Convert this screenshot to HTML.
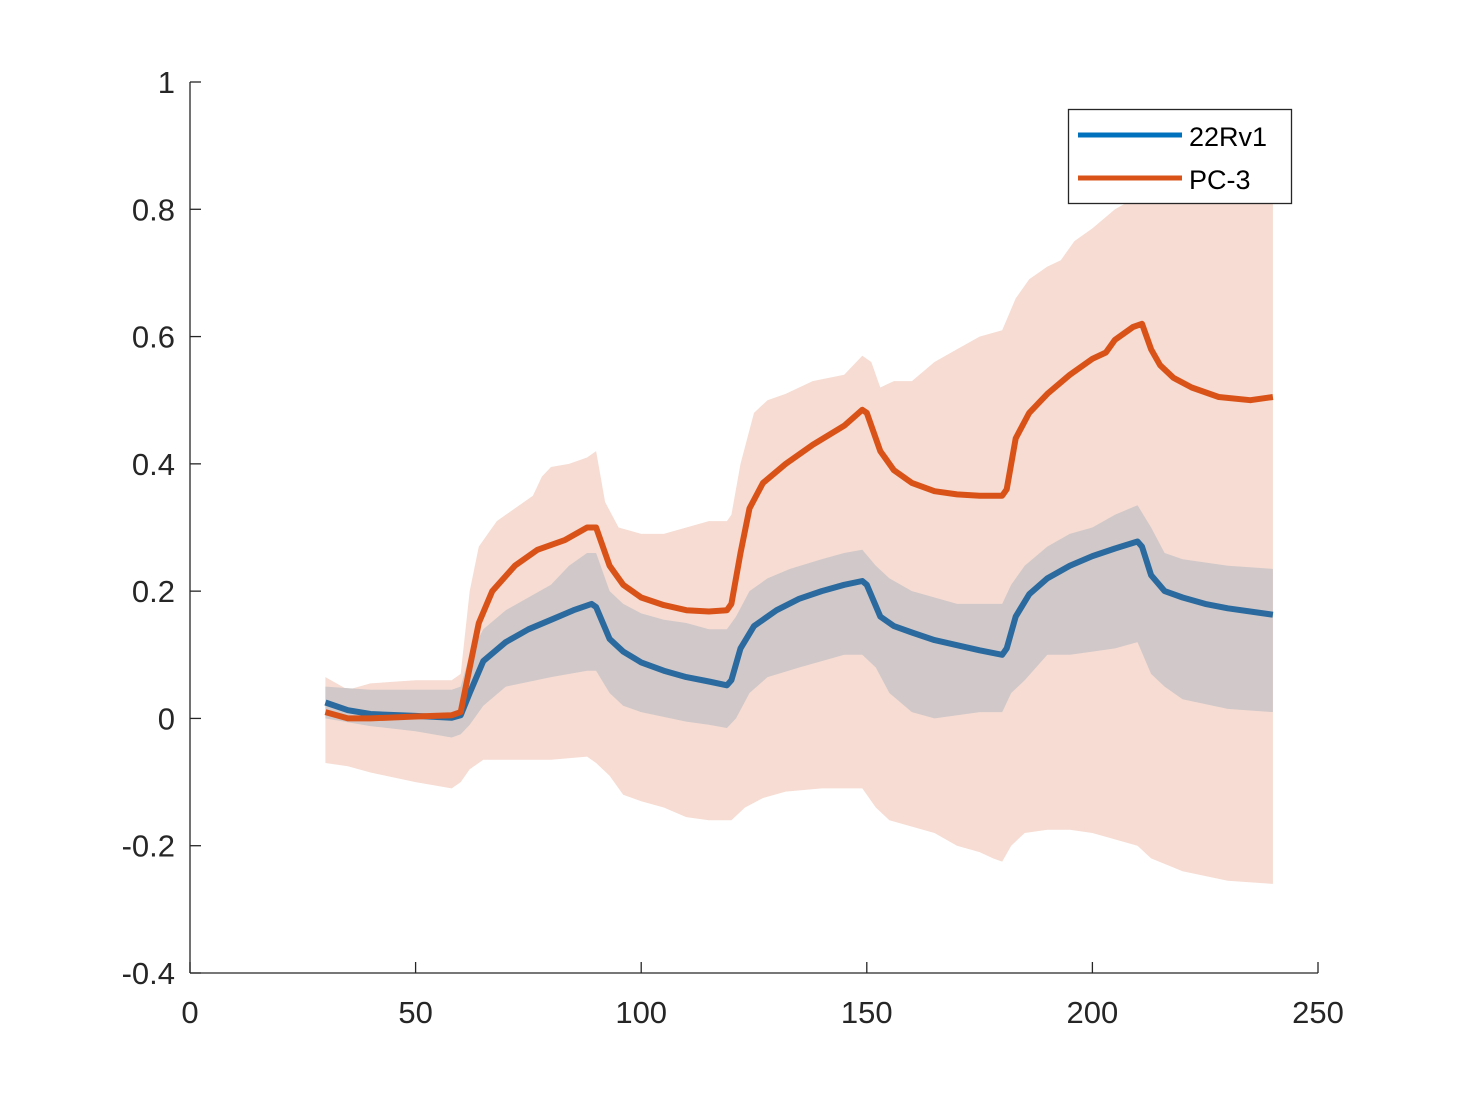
<!DOCTYPE html>
<html><head><meta charset="utf-8"><style>
body{margin:0;background:#fff}
svg{display:block;font-family:"Liberation Sans",Arial,sans-serif}
</style></head><body>
<svg id="chart" width="1458" height="1094" viewBox="0 0 1458 1094" xmlns="http://www.w3.org/2000/svg">
<rect width="1458" height="1094" fill="#fff"/>
<g id="bands"></g>
<g id="lines"></g>
<g id="axes" stroke="#262626" stroke-width="1.3" fill="none"></g>
<g id="ticklabels" fill="#262626" font-size="31"></g>
<g>
<rect x="1068.5" y="109.5" width="223" height="94" fill="#fff" stroke="#262626" stroke-width="1.3"/>
<line x1="1078" y1="135" x2="1182" y2="135" stroke="#0072bd" stroke-width="5"/>
<text x="1189" y="146" font-size="27" fill="#000">22Rv1</text>
<line x1="1078" y1="178" x2="1182" y2="178" stroke="#d95319" stroke-width="5"/>
<text x="1189" y="189" font-size="27" fill="#000">PC-3</text>
</g>
</svg>
<script>
const xTicks=[0,50,100,150,200,250];
const yTicks=[-0.4,-0.2,0,0.2,0.4,0.6,0.8,1];
const yTickLabels=["-0.4","-0.2","0","0.2","0.4","0.6","0.8","1"];
const pcX=[30,35,40,50,58,60,62,64,67,72,77,83,88,90,93,96,100,105,110,115,119,120,122,124,127,132,138,145,149,150,153,156,160,165,170,175,180,181,183,186,190,195,200,203,205,209,211,213,215,218,222,228,235,240];
const pcY=[0.01,0,0,0.003,0.005,0.01,0.08,0.15,0.2,0.24,0.265,0.28,0.3,0.3,0.24,0.21,0.19,0.178,0.17,0.168,0.17,0.18,0.26,0.33,0.37,0.4,0.43,0.46,0.485,0.48,0.42,0.39,0.37,0.357,0.352,0.35,0.35,0.36,0.44,0.48,0.51,0.54,0.565,0.575,0.595,0.615,0.62,0.58,0.555,0.535,0.52,0.505,0.5,0.505];
const rvX=[30,35,40,50,58,60,62,65,70,75,80,85,89,90,93,96,100,105,110,115,119,120,122,125,130,135,140,145,149,150,153,156,160,165,170,175,180,181,183,186,190,195,200,205,210,211,213,216,220,225,230,240];
const rvY=[0.025,0.013,0.007,0.004,0.001,0.005,0.04,0.09,0.12,0.14,0.155,0.17,0.18,0.175,0.125,0.105,0.088,0.075,0.065,0.058,0.052,0.06,0.11,0.145,0.17,0.188,0.2,0.21,0.216,0.21,0.16,0.145,0.135,0.123,0.115,0.107,0.1,0.11,0.16,0.195,0.22,0.24,0.255,0.267,0.278,0.27,0.225,0.2,0.19,0.18,0.173,0.163];
const pcUpX=[30,35,40,50,58,60,62,64,68,72,76,78,80,84,88,90,92,95,100,105,110,115,119,120,122,125,128,132,138,145,149,151,153,156,160,165,170,175,180,183,186,190,193,196,200,205,210,215,240];
const pcUp=[0.065,0.045,0.055,0.06,0.06,0.07,0.2,0.27,0.31,0.33,0.35,0.38,0.395,0.4,0.41,0.42,0.34,0.3,0.29,0.29,0.3,0.31,0.31,0.32,0.4,0.48,0.5,0.51,0.53,0.54,0.57,0.56,0.52,0.53,0.53,0.56,0.58,0.6,0.61,0.66,0.69,0.71,0.72,0.75,0.77,0.8,0.82,0.82,0.82];
const pcLoX=[30,35,40,50,58,60,62,65,70,80,88,90,93,96,100,105,110,115,120,123,127,132,140,145,149,152,155,160,165,170,175,178,180,182,185,190,195,200,205,210,213,220,230,240];
const pcLo=[-0.07,-0.075,-0.085,-0.1,-0.11,-0.1,-0.08,-0.065,-0.065,-0.065,-0.06,-0.07,-0.09,-0.12,-0.13,-0.14,-0.155,-0.16,-0.16,-0.14,-0.125,-0.115,-0.11,-0.11,-0.11,-0.14,-0.16,-0.17,-0.18,-0.2,-0.21,-0.22,-0.225,-0.2,-0.18,-0.175,-0.175,-0.18,-0.19,-0.2,-0.22,-0.24,-0.255,-0.26];
const rvUpX=[30,40,50,58,60,62,65,70,75,80,84,88,90,93,96,100,105,110,115,119,121,124,128,133,140,145,149,152,155,160,165,170,175,180,182,185,190,195,200,205,210,213,216,220,230,240];
const rvUp=[0.05,0.045,0.045,0.045,0.05,0.1,0.14,0.17,0.19,0.21,0.24,0.26,0.26,0.2,0.18,0.165,0.155,0.15,0.14,0.14,0.16,0.2,0.22,0.235,0.25,0.26,0.265,0.24,0.22,0.2,0.19,0.18,0.18,0.18,0.21,0.24,0.27,0.29,0.3,0.32,0.335,0.3,0.26,0.25,0.24,0.235];
const rvLoX=[30,40,50,58,60,62,65,70,80,88,90,93,96,100,110,115,119,121,124,128,135,145,149,152,155,160,165,170,175,180,182,185,190,195,200,205,210,213,216,220,230,240];
const rvLo=[0,-0.012,-0.02,-0.03,-0.025,-0.01,0.02,0.05,0.065,0.075,0.075,0.04,0.02,0.01,-0.005,-0.01,-0.015,0,0.04,0.065,0.08,0.1,0.1,0.08,0.04,0.01,0,0.005,0.01,0.01,0.04,0.06,0.1,0.1,0.105,0.11,0.12,0.07,0.05,0.03,0.015,0.01];

const X0=190,X1=1318,Y0=973,Y1=82;
const sx=v=>X0+(v-0)/(250-0)*(X1-X0);
const sy=v=>Y0-(v+0.4)/(1.4)*(Y0-Y1);
const NS='http://www.w3.org/2000/svg';
function mk(tag,attrs,parent){const e=document.createElementNS(NS,tag);for(const k in attrs)e.setAttribute(k,attrs[k]);parent.appendChild(e);return e;}
function pts(xs,ys){return xs.map((x,i)=>sx(x).toFixed(1)+','+sy(ys[i]).toFixed(1));}
const bands=document.getElementById('bands'),lines=document.getElementById('lines');
let p=mk('polygon',{points:pts(pcUpX,pcUp).concat(pts(pcLoX,pcLo).reverse()).join(' '),fill:'#f6dcd2'},bands);


p=mk('polygon',{points:pts(rvUpX,rvUp).concat(pts(rvLoX,rvLo).reverse()).join(' '),fill:'#d0c8c9'},bands);


p=mk('polyline',{points:pts(rvX,rvY).join(' '),fill:'none',stroke:'#2a6a9e','stroke-width':6,'stroke-linejoin':'round'},lines);


p=mk('polyline',{points:pts(pcX,pcY).join(' '),fill:'none',stroke:'#d95319','stroke-width':6,'stroke-linejoin':'round'},lines);


const ax=document.getElementById('axes'),tl=document.getElementById('ticklabels');
let a=mk('path',{d:`M${X0},${Y1}V${Y0}`},ax);


a=mk('path',{d:`M${X0},${Y0}H${X1}`},ax);


xTicks.forEach(v=>{mk('path',{d:`M${sx(v)},${Y0}v-11`},ax);
const t=mk('text',{x:sx(v),y:Y0+50,'text-anchor':'middle'},tl);t.textContent=v;

});
yTicks.forEach((v,i)=>{mk('path',{d:`M${X0},${sy(v)}h11`},ax);
const t=mk('text',{x:X0-15,y:sy(v)+11,'text-anchor':'end'},tl);t.textContent=yTickLabels[i];

});
</script>
</body></html>
